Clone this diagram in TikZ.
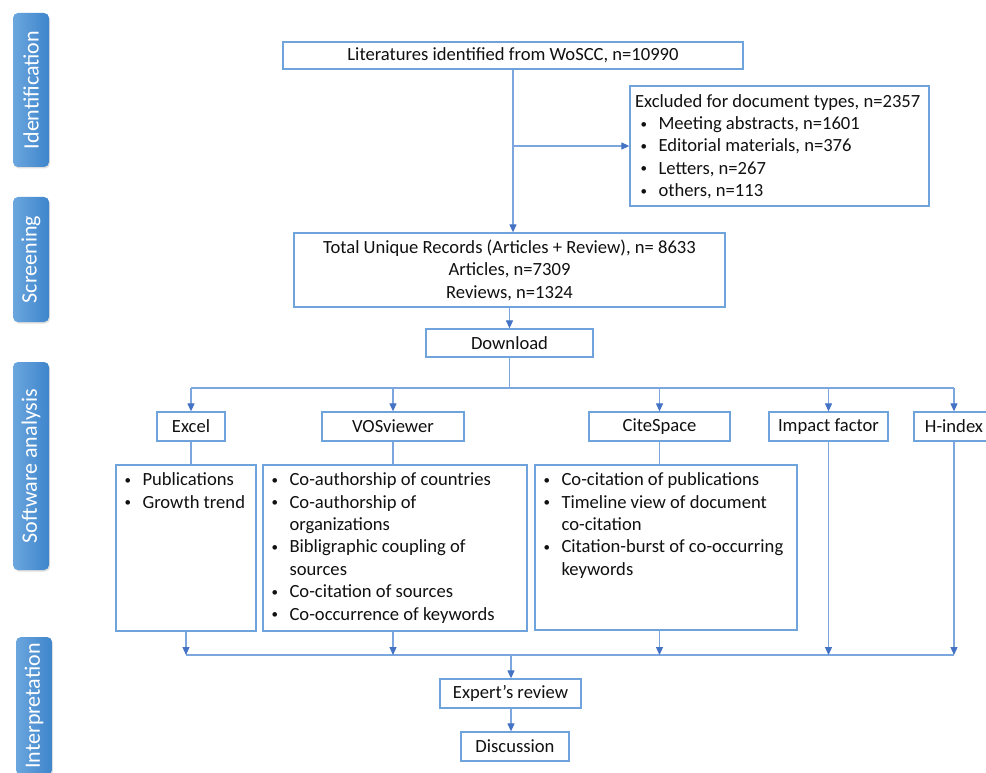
\documentclass[tikz,border=0pt]{standalone}
\usepackage{fontspec}
\usepackage{graphicx}
\setmainfont{Carlito}
\usetikzlibrary{arrows.meta,shadows}
\definecolor{boxblue}{HTML}{6FA3DC}
\definecolor{lineblue}{HTML}{7BA7DE}
\definecolor{tipblue}{HTML}{4472C4}
\definecolor{barL}{HTML}{6BA6DE}
\definecolor{barR}{HTML}{3E85CC}
\definecolor{txt}{HTML}{111111}
\newcommand{\blt}{\makebox[19.5pt][l]{\hspace{1.5pt}\raisebox{1.5pt}{\scalebox{0.7}{•}}}}
\begin{document}
\begin{tikzpicture}[x=1pt,y=-1pt,
  every node/.style={font=\fontsize{18.6}{22.4}\selectfont, text=txt},
  box/.style={draw=boxblue, line width=1.3pt, fill=white, inner sep=0pt, minimum height=29pt},
  conn/.style={draw=lineblue, line width=1.2pt},
  arr/.style={conn, -{Triangle[length=8pt,width=7pt,fill=tipblue,color=tipblue]}},
  bar/.style={rounded corners=5pt, left color=barL, right color=barR, minimum width=36pt,
    inner sep=0pt, text=white, font=\fontsize{22}{26}\selectfont,
    drop shadow={opacity=0.25, shadow xshift=1pt, shadow yshift=-1.5pt}},
  listtxt/.style={inner sep=0pt, anchor=north west, align=left}
]
\useasboundingbox (0,0) rectangle (986,773);
\fill[white] (0,0) rectangle (986,773);
\clip (0,0) rectangle (986,773);

% phase bars
\node[bar, minimum height=154pt] (idbar) at (31,90) {\rotatebox{90}{Identification}};
\node[bar, minimum height=125pt] (scbar) at (31,259.5) {\rotatebox{90}{Screening}};
\node[bar, minimum height=208pt] (swbar) at (31,466) {\rotatebox{90}{Software analysis}};
\node[bar, minimum height=138pt] (inbar) at (34,706) {\rotatebox{90}{Interpretation}};

% main boxes
\node[box, minimum width=460pt, minimum height=27pt] (top) at (513,55.5) {Literatures identified from WoSCC, n=10990};
\node[box, minimum width=299pt, minimum height=120pt] (excl) at (779.5,146) {};
\node[listtxt, anchor=west] (excltxt) at ([xshift=5.5pt,yshift=-1.5pt]excl.west)
  {\begin{tabular}{@{}l@{}}Excluded for document types, n=2357\\
   \hspace{4pt}\blt Meeting abstracts, n=1601\\
   \hspace{4pt}\blt Editorial materials, n=376\\
   \hspace{4pt}\blt Letters, n=267\\
   \hspace{4pt}\blt others, n=113\end{tabular}};
\node[box, minimum width=431pt, minimum height=74pt, align=center] (total) at (509.5,270)
  {Total Unique Records (Articles + Review), n= 8633\\Articles, n=7309\\Reviews, n=1324};
\node[box, minimum width=167pt, minimum height=28pt] (download) at (509.5,343) {Download};

% software boxes
\node[box, minimum width=68pt] (excel) at (191,426.5) {Excel};
\node[box, minimum width=142pt] (vos) at (393,426.5) {VOSviewer};
\node[box, minimum width=141pt] (cite) at (659.5,426.5) {CiteSpace};
\node[box, minimum width=119pt] (impact) at (828.5,426.5) {Impact factor};
\node[box, minimum width=80pt] (hidx) at (954,426.5) {H-index};

% list boxes
\node[box, minimum width=140pt, minimum height=166pt] (exlist) at (186,548) {};
\node[box, minimum width=264pt, minimum height=166pt] (voslist) at (395,548) {};
\node[box, minimum width=262pt, minimum height=165pt] (citelist) at (666,547.5) {};
\node[listtxt] (exlisttxt) at ([xshift=7.5pt,yshift=-5.5pt]exlist.north west)
  {\begin{tabular}{@{}l@{}}\blt Publications\\ \blt Growth trend\end{tabular}};
\node[listtxt] (voslisttxt) at ([xshift=7.5pt,yshift=-5.5pt]voslist.north west)
  {\begin{tabular}{@{}l@{}}\blt Co-authorship of countries\\
   \blt Co-authorship of\\ \hspace{19.5pt}organizations\\
   \blt Bibligraphic coupling of\\ \hspace{19.5pt}sources\\
   \blt Co-citation of sources\\
   \blt Co-occurrence of keywords\end{tabular}};
\node[listtxt] (citelisttxt) at ([xshift=7.5pt,yshift=-5.5pt]citelist.north west)
  {\begin{tabular}{@{}l@{}}\blt Co-citation of publications\\
   \blt Timeline view of document\\ \hspace{19.5pt}co-citation\\
   \blt Citation-burst of co-occurring\\ \hspace{19.5pt}keywords\end{tabular}};

% interpretation boxes
\node[box, minimum width=141pt] (expert) at (510.5,693.5) {Expert’s review};
\node[box, minimum width=108pt] (disc) at (515,746.5) {Discussion};

% connectors
\draw[arr] (top.south) -- (top.south |- total.north);
\draw[arr] (top.south |- excl.west) -- (excl.west);
\draw[arr] (total.south) -- (download.north);
\coordinate (split) at (509.5,388);
\draw[conn] (download.south) -- (split);
\draw[conn] (excel.north |- split) -- (hidx.north |- split);
\draw[arr] (excel.north |- split) -- (excel.north);
\draw[arr] (vos.north |- split) -- (vos.north);
\draw[arr] (cite.north |- split) -- (cite.north);
\draw[arr] (impact.north |- split) -- (impact.north);
\draw[arr] (hidx.north |- split) -- (hidx.north);
\draw[conn] (excel.south) -- (excel.south |- exlist.north);
\draw[conn] (vos.south) -- (vos.south |- voslist.north);
\draw[conn] (cite.south) -- (cite.south |- citelist.north);

\coordinate (join) at (511,655);
\draw[conn] (exlist.south |- join) -- (hidx.south |- join);
\draw[arr] (exlist.south) -- (exlist.south |- join);
\draw[arr] (vos.south |- voslist.south) -- (vos.south |- join);
\draw[arr] (cite.south |- citelist.south) -- (cite.south |- join);
\draw[arr] (impact.south) -- (impact.south |- join);
\draw[arr] (hidx.south) -- (hidx.south |- join);
\draw[arr] (join) -- (join |- expert.north);
\draw[arr] (join |- expert.south) -- (join |- disc.north);
\end{tikzpicture}
\end{document}
